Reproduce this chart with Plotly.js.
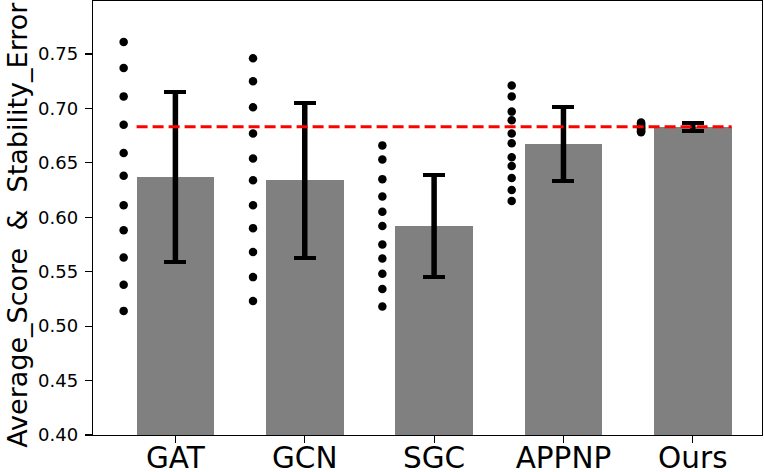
<!DOCTYPE html>
<html>
<head>
<meta charset="utf-8">
<script src="https://cdn.plot.ly/plotly-3.0.1.min.js"></script>
<style>
  html, body { margin: 0; padding: 0; background: #fff; }
  #chart { width: 764px; height: 472px; }
</style>
</head>
<body>
<div id="chart"></div>
<script>
// Mean score per model with std error bars, plus the individual runs as a strip of dots.
const models = ['GAT', 'GCN', 'SGC', 'APPNP', 'Ours'];
const means = [0.637, 0.634, 0.592, 0.667, 0.683];
const stds = [0.078, 0.071, 0.047, 0.034, 0.004];

const runsGAT = [0.761, 0.737, 0.711, 0.685, 0.659, 0.638, 0.611, 0.588, 0.563, 0.538, 0.514];
const runsGCN = [0.746, 0.725, 0.701, 0.677, 0.654, 0.634, 0.611, 0.590, 0.568, 0.545, 0.523];
const runsSGC = [0.666, 0.653, 0.635, 0.619, 0.605, 0.592, 0.575, 0.562, 0.548, 0.534, 0.518];
const runsAPPNP = [0.721, 0.711, 0.697, 0.689, 0.677, 0.668, 0.655, 0.647, 0.636, 0.625, 0.615];
const runsOurs = [0.687, 0.686, 0.685, 0.684, 0.683, 0.682, 0.682, 0.681, 0.680, 0.679, 0.678];
const runs = [runsGAT, runsGCN, runsSGC, runsAPPNP, runsOurs];

const yTicks = [0.40, 0.45, 0.50, 0.55, 0.60, 0.65, 0.70, 0.75];

const FONT = 'DejaVu Sans, Liberation Sans, sans-serif';
const idx = models.map((_, i) => i);
const BAR_W = 0.6;
const DOT_OFFSET = -0.4;

const traces = [];

traces.push({
    type: 'bar',
    x: idx,
    y: means,
    width: BAR_W,
    marker: { color: '#808080', line: { width: 0 } },
    error_y: { type: 'data', array: stds, visible: true, color: '#000', thickness: 4, width: 11 },
    hoverinfo: 'skip',
    showlegend: false,
});

// thicker stems (matplotlib elinewidth > capthick), no caps
traces.push({
    type: 'scatter',
    mode: 'markers',
    x: idx,
    y: means,
    marker: { size: 0.1, color: 'rgba(0,0,0,0)' },
    error_y: { type: 'data', array: stds, visible: true, color: '#000', thickness: 5.5, width: 0 },
    hoverinfo: 'skip',
    showlegend: false,
});

// strip of runs
const dotX = [], dotY = [];
runs.forEach((vals, i) => {
    vals.forEach(v => { dotX.push(i + DOT_OFFSET); dotY.push(v); });
});
traces.push({
    type: 'scatter',
    mode: 'markers',
    x: dotX,
    y: dotY,
    marker: { color: '#000', size: 8.5, line: { width: 0 } },
    hoverinfo: 'skip',
    showlegend: false,
});

const refLine = means[means.length - 1];

const layout = {
    width: 764,
    height: 472,
    paper_bgcolor: '#fff',
    plot_bgcolor: '#fff',
    margin: { l: 93, r: 1.5, t: 1, b: 37, pad: 0 },
    font: { family: FONT, color: '#000' },
    xaxis: {
        range: [-0.637, 4.535],
        tickvals: idx,
        ticktext: models,
        tickfont: { size: 29.5, family: FONT, color: '#000' },
        ticks: 'outside', ticklen: 7, tickwidth: 1.2, tickcolor: '#000',
        showline: true, linecolor: '#000', linewidth: 1.3, mirror: true,
        showgrid: false, zeroline: false,
        ticklabelstandoff: -11,
    },
    yaxis: {
        range: [0.40, 0.7986],
        tickvals: yTicks,
        ticktext: yTicks.map(v => v.toFixed(2)),
        tickfont: { size: 18, family: FONT, color: '#000' },
        ticks: 'outside', ticklen: 7, tickwidth: 1.2, tickcolor: '#000',
        showline: true, linecolor: '#000', linewidth: 1.3, mirror: true,
        showgrid: false, zeroline: false,
        ticklabelstandoff: 3,
    },
    shapes: [{
        type: 'line', xref: 'x', yref: 'y',
        x0: -BAR_W / 2, x1: models.length - 1 + BAR_W / 2,
        y0: refLine, y1: refLine,
        line: { color: '#ff0000', width: 3, dash: '11px,5px' },
        layer: 'above',
    }],
    annotations: [{
        xref: 'paper', yref: 'paper',
        x: (18 - 93) / 669.5, y: 0.4845,
        xanchor: 'center', yanchor: 'middle',
        textangle: -90,
        showarrow: false,
        text: 'Average_Score\u00a0 &\u00a0 Stability_Error',
        font: { size: 27, family: FONT, color: '#000' },
    }],
    bargap: 0,
};

Plotly.newPlot('chart', traces, layout, { displayModeBar: false, staticPlot: true });
</script>
</body>
</html>
